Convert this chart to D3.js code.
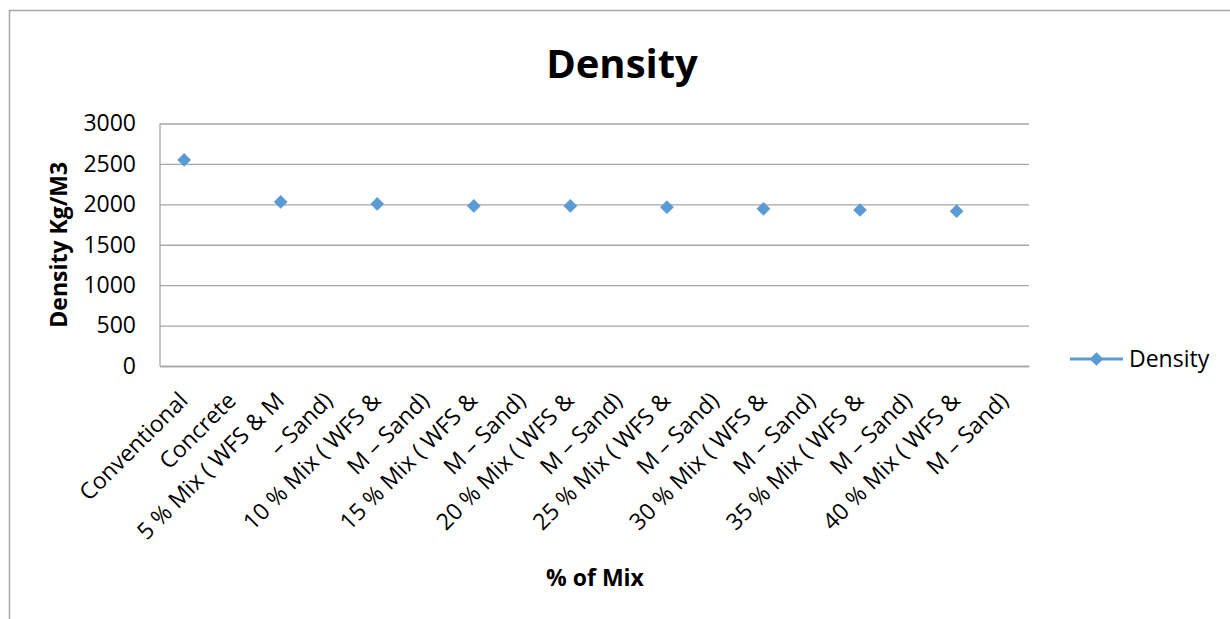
<!DOCTYPE html>
<html>
<head>
<meta charset="utf-8">
<script src="https://cdn.jsdelivr.net/npm/d3@7"></script>
<style>
  body { margin: 0; background: #fff; }
  svg { display: block; font-family: "Open Sans", "Noto Sans", sans-serif; }
</style>
</head>
<body>
<svg id="chart"></svg>
<script>
// categories (Excel split each long label over two category slots)
const categories = [
  "Conventional", "Concrete",
  "5 % Mix ( WFS & M", "\u2013 Sand)",
  "10 % Mix ( WFS &", "M \u2013 Sand)",
  "15 % Mix ( WFS &", "M \u2013 Sand)",
  "20 % Mix ( WFS &", "M \u2013 Sand)",
  "25 % Mix ( WFS &", "M \u2013 Sand)",
  "30 % Mix ( WFS &", "M \u2013 Sand)",
  "35 % Mix ( WFS &", "M \u2013 Sand)",
  "40 % Mix ( WFS &", "M \u2013 Sand)"
];
// density values, empty on the second half of each label
const density = [2550, null, 2030, null, 2005, null, 1980, null, 1980, null,
                 1965, null, 1945, null, 1930, null, 1915, null];
const yTicks = [0, 500, 1000, 1500, 2000, 2500, 3000];

const width = 1230, height = 619;
const marginLeft = 160, marginRight = 201, marginTop = 123.5, marginBottom = 253;
const color = "#5b9bd5";
const fontSize = 23;

const svg = d3.select("#chart")
    .attr("width", width)
    .attr("height", height)
    .attr("viewBox", [0, 0, width, height]);

// outer chart frame
svg.append("path")
    .attr("d", `M9.5,${height}V10.5H${width}`)
    .attr("fill", "none")
    .attr("stroke", "#a6a6a6")
    .attr("stroke-width", 1.5);

const x = d3.scaleBand()
    .domain(d3.range(categories.length))
    .range([marginLeft, width - marginRight])
    .padding(0);
const cx = i => x(i) + x.bandwidth() / 2;

const y = d3.scaleLinear()
    .domain([0, 3000])
    .range([height - marginBottom, marginTop]);

// y axis with gridlines
svg.append("g")
    .attr("transform", `translate(${marginLeft},0)`)
    .call(d3.axisLeft(y).tickValues(yTicks).tickFormat(d3.format("d")).tickSize(0).tickPadding(24))
    .call(g => g.select(".domain").remove())
    .call(g => g.selectAll(".tick line").clone()
        .attr("x2", width - marginLeft - marginRight)
        .attr("stroke", "#a6a6a6")
        .attr("stroke-width", 1.3))
    .call(g => g.selectAll(".tick text")
        .attr("font-size", fontSize)
        .attr("font-family", "Open Sans")
        .attr("fill", "#000"));

// left axis line
svg.append("line")
    .attr("x1", marginLeft).attr("x2", marginLeft)
    .attr("y1", marginTop).attr("y2", height - marginBottom)
    .attr("stroke", "#a6a6a6")
    .attr("stroke-width", 1.3);

// x axis (category labels, rotated)
svg.append("g")
    .attr("transform", `translate(0,${height - marginBottom})`)
    .call(d3.axisBottom(x).tickSize(0).tickFormat(i => categories[i]))
    .call(g => g.select(".domain")
        .attr("stroke", "#a6a6a6")
        .attr("stroke-width", 1.3))
    .call(g => g.selectAll(".tick text")
        .attr("font-size", fontSize)
        .attr("font-family", "Open Sans")
        .attr("fill", "#000")
        .attr("text-anchor", "end")
        .attr("y", 0)
        .attr("dy", 0)
        .attr("transform", "translate(5,36) rotate(-45)"));

// series: markers only where defined (line breaks at the gaps)
const line = d3.line()
    .defined(d => d[1] !== null)
    .x(d => cx(d[0]))
    .y(d => y(d[1]));

svg.append("path")
    .datum(density.map((v, i) => [i, v]))
    .attr("fill", "none")
    .attr("stroke", color)
    .attr("stroke-width", 3)
    .attr("d", line);

const diamond = d3.symbol().type(d3.symbolDiamond2).size(120);

svg.append("g")
    .attr("fill", color)
  .selectAll("path")
  .data(density.map((v, i) => [i, v]).filter(d => d[1] !== null))
  .join("path")
    .attr("transform", d => `translate(${cx(d[0])},${y(d[1])})`)
    .attr("d", diamond);

// titles
svg.append("text")
    .attr("x", 622)
    .attr("y", 78)
    .attr("text-anchor", "middle")
    .attr("font-size", 40)
    .attr("font-weight", "bold")
    .text("Density");

svg.append("text")
    .attr("x", 595)
    .attr("y", 586)
    .attr("text-anchor", "middle")
    .attr("font-size", fontSize)
    .attr("font-weight", "bold")
    .text("% of Mix");

svg.append("text")
    .attr("transform", `translate(67,${(marginTop + height - marginBottom) / 2}) rotate(-90)`)
    .attr("text-anchor", "middle")
    .attr("font-size", fontSize)
    .attr("font-weight", "bold")
    .text("Density Kg/M3");

// legend
const legend = svg.append("g").attr("transform", "translate(1070,359)");
legend.append("line")
    .attr("x1", 0).attr("x2", 53)
    .attr("stroke", color)
    .attr("stroke-width", 3);
legend.append("path")
    .attr("transform", "translate(26.5,0)")
    .attr("fill", color)
    .attr("d", diamond);
legend.append("text")
    .attr("x", 59)
    .attr("dy", "0.35em")
    .attr("font-size", fontSize)
    .text("Density");
</script>
</body>
</html>
